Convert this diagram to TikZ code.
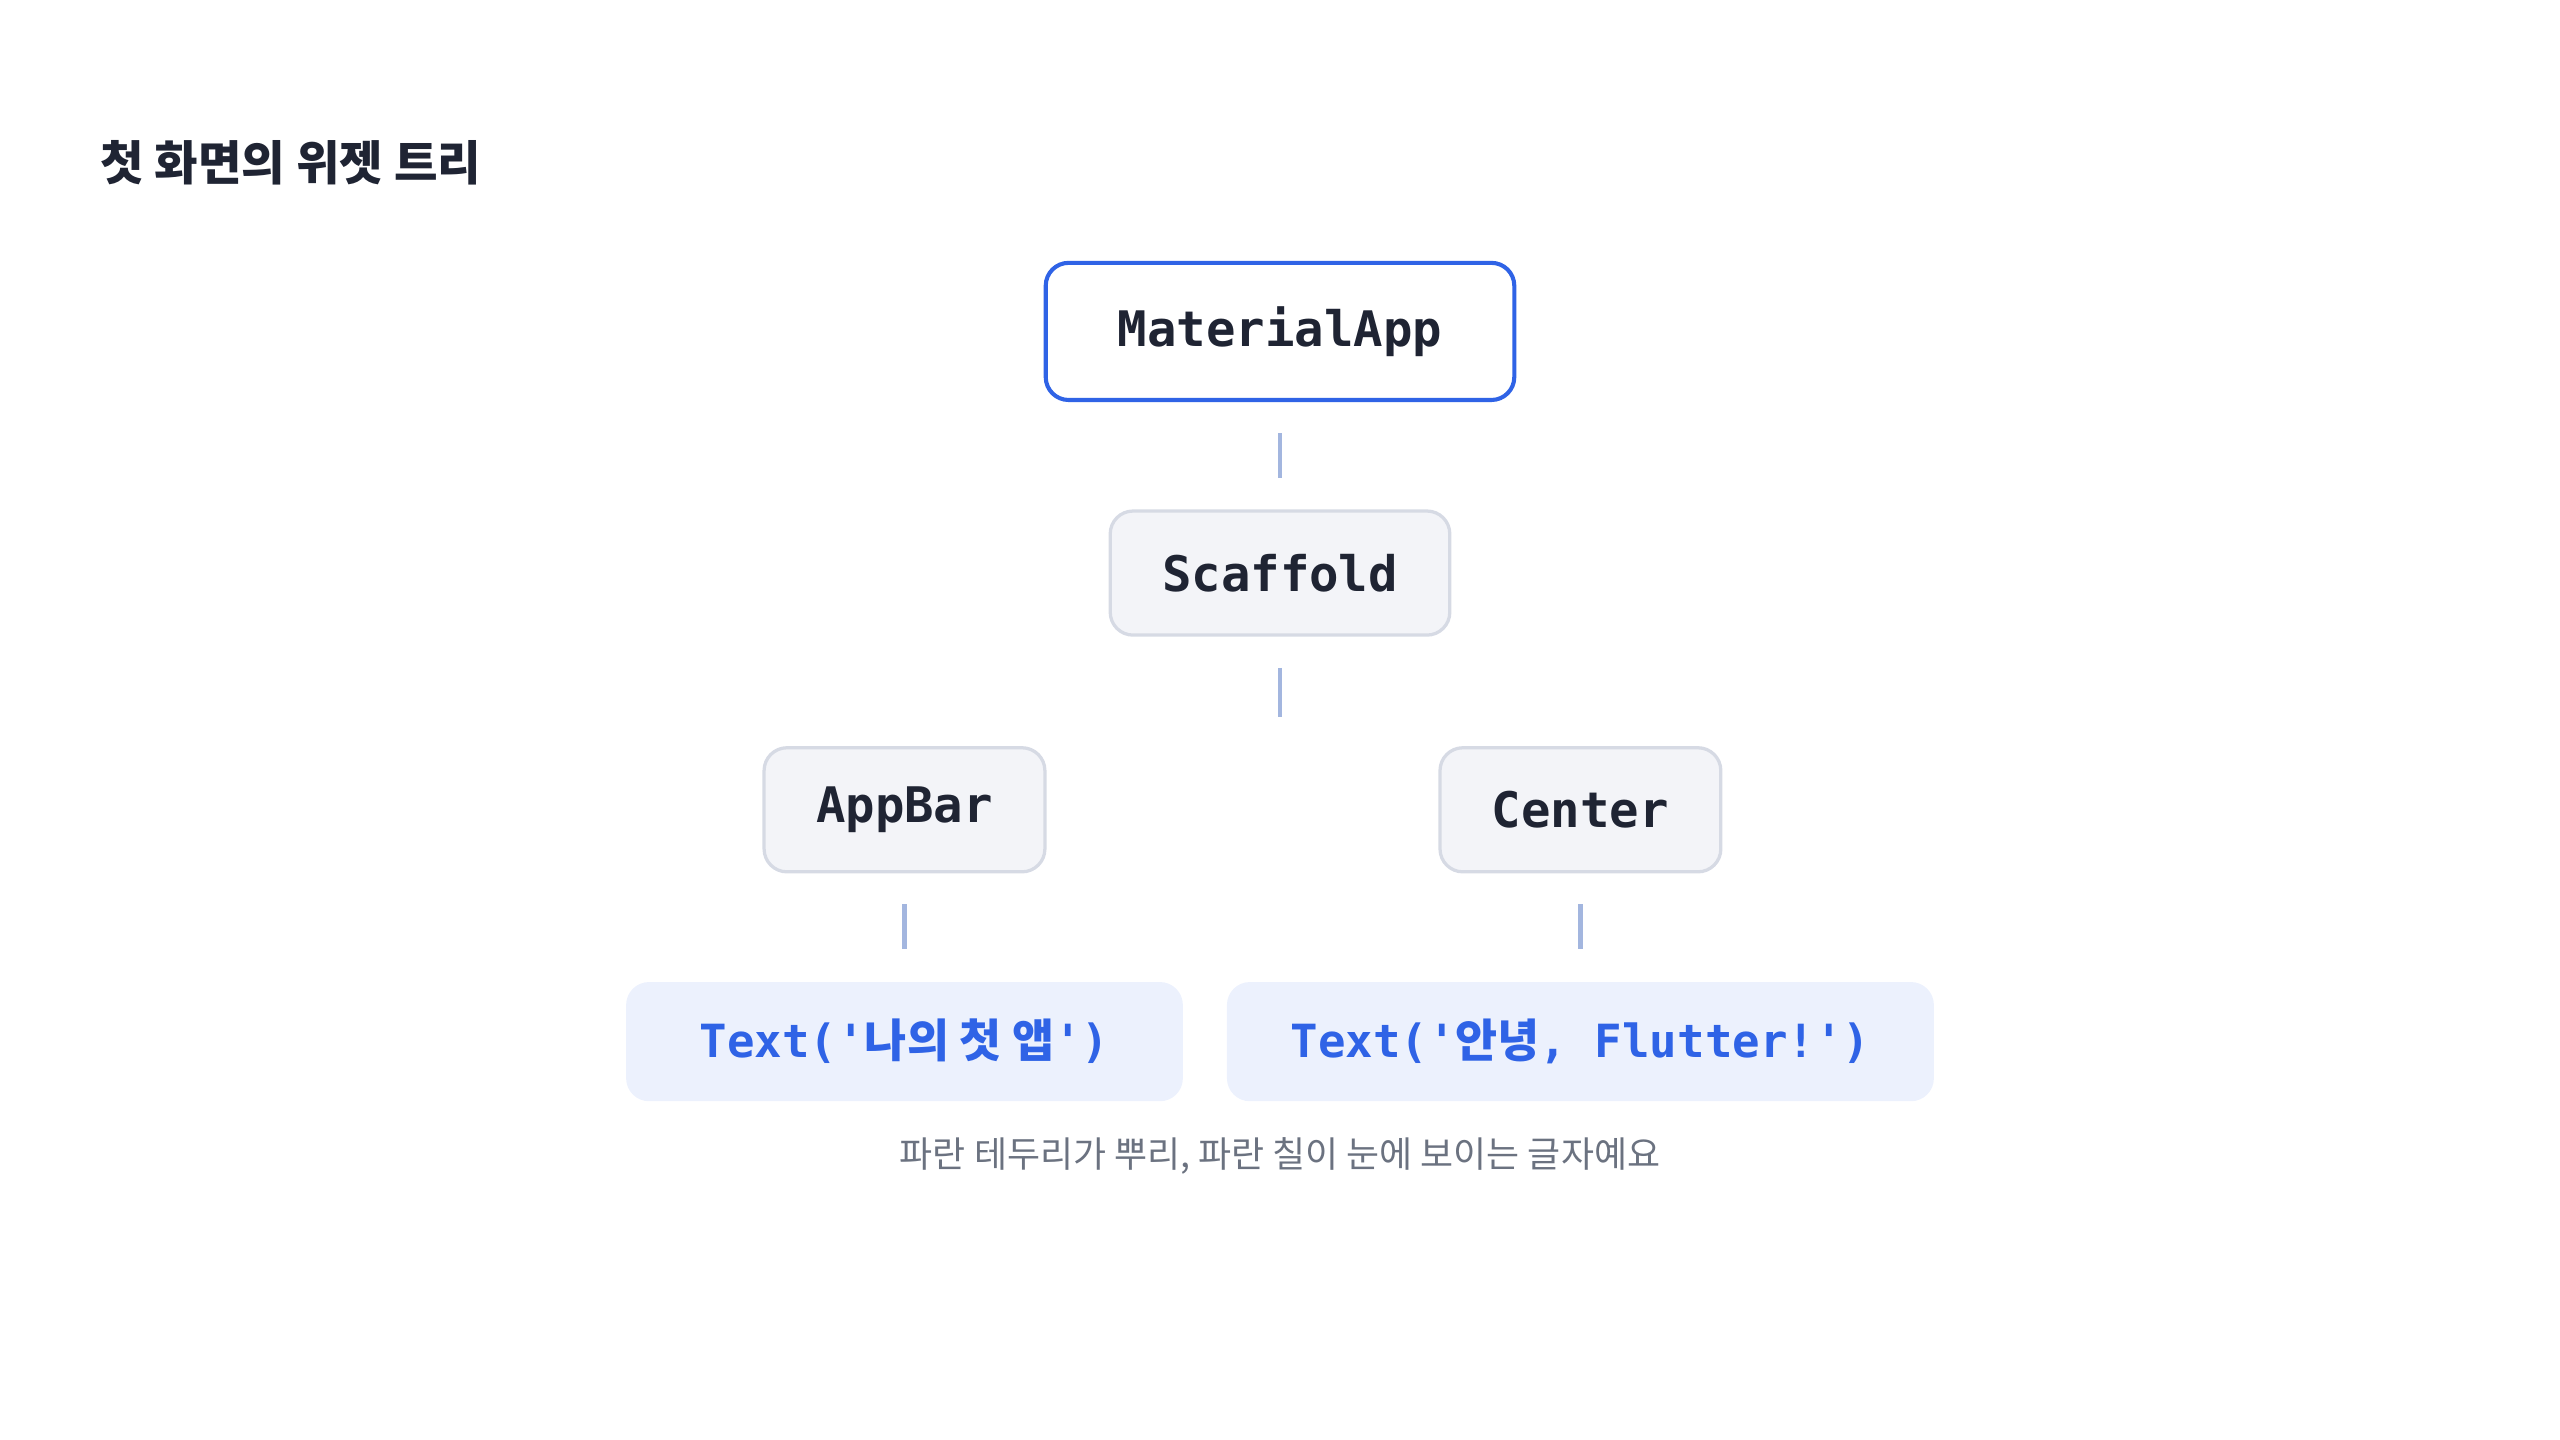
\documentclass[tikz,border=0pt]{standalone}
\usepackage{fontspec}
\setmainfont{Noto Sans CJK KR}
\setmonofont{DejaVu Sans Mono}
\newfontfamily\cjk{Noto Sans CJK KR}
\usetikzlibrary{positioning}
\definecolor{ink}{HTML}{1F2433}
\definecolor{accent}{HTML}{2F63E6}
\definecolor{wirec}{HTML}{A3B6DF}
\definecolor{boxfill}{HTML}{F3F4F8}
\definecolor{boxline}{HTML}{D6DAE4}
\definecolor{leaffill}{HTML}{ECF1FD}
\definecolor{muted}{HTML}{6B7280}
\tikzset{
 widget/.style={rounded corners=14pt,draw=boxline,line width=2pt,fill=boxfill,
  text=ink,font=\fontsize{30}{36}\selectfont\ttfamily\bfseries,inner sep=0pt},
 root/.style={widget,draw=accent,line width=2.5pt,fill=white},
 leaf/.style={widget,draw=none,fill=leaffill,text=accent,font=\fontsize{28}{34}\selectfont\ttfamily\bfseries},
 wire/.style={wirec,line width=3pt,shorten <=19pt,shorten >=19pt}
}
\begin{document}
\begin{tikzpicture}[x=1pt,y=-1pt]
 \useasboundingbox (0,0) rectangle (1568,882);
 \node[anchor=west,text=ink,font=\fontsize{29}{34}\selectfont\cjk\bfseries] (title) at (58,100) {첫 화면의 위젯 트리};
 % tree of widgets
 \node[root,minimum width=287pt,minimum height=84pt] (app) at (784,203) {MaterialApp};
 \node[widget,minimum width=208pt,minimum height=76pt] (scaf) at (784,351) {Scaffold};
 \node[widget,minimum width=172pt,minimum height=76pt] (bar) at (554,496) {AppBar};
 \node[widget,minimum width=172pt,minimum height=76pt] (center) at (968,496) {Center};
 \node[leaf,minimum width=341pt,minimum height=73pt] (title text) at (554,638) {Text('{\cjk 나의 첫 앱}')};
 \node[leaf,minimum width=433pt,minimum height=73pt] (hello text) at (968,638) {Text('{\cjk 안녕}, Flutter!')};
 \coordinate (split) at (784,458);
 \draw[wire] (app) -- (scaf);
 \draw[wire] (scaf) -- (split);
 \draw[wire] (bar) -- (title text);
 \draw[wire] (center) -- (hello text);
 \node[text=muted,font=\fontsize{22}{26}\selectfont] (note) at (784,708) {파란 테두리가 뿌리, 파란 칠이 눈에 보이는 글자예요};
\end{tikzpicture}
\end{document}
